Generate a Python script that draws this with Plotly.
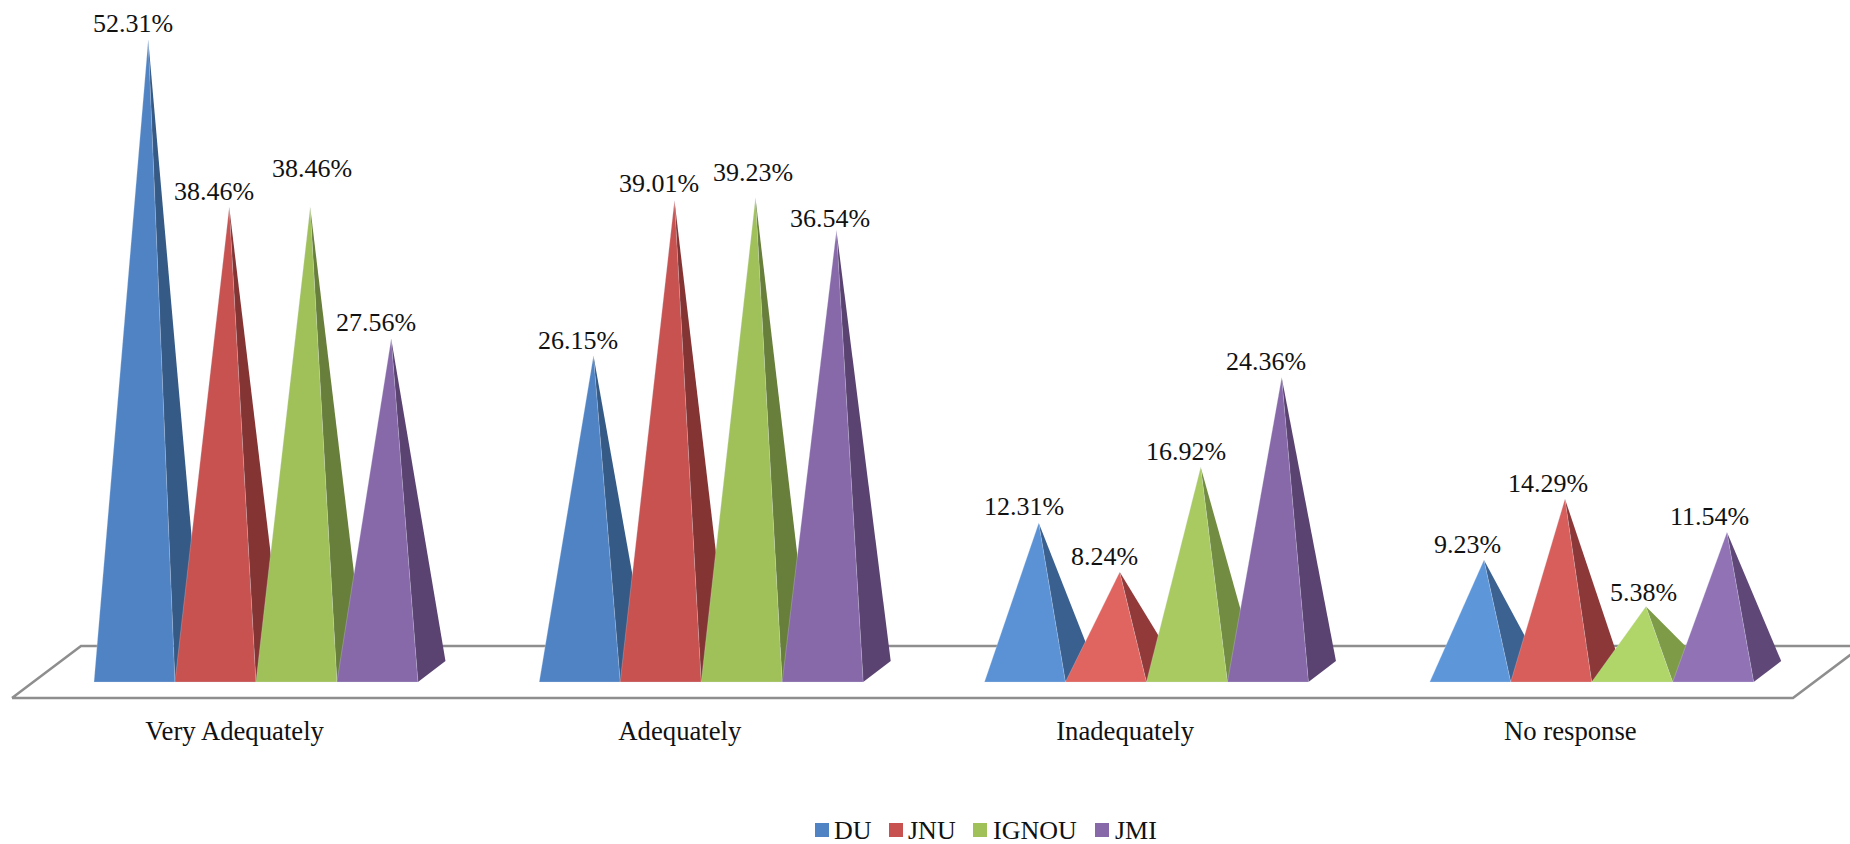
import plotly.graph_objects as go

categories = ["Very Adequately", "Adequately", "Inadequately", "No response"]
series_names = ["DU", "JNU", "IGNOU", "JMI"]
du_values = [52.31, 26.15, 12.31, 9.23]
jnu_values = [38.46, 39.01, 8.24, 14.29]
ignou_values = [38.46, 39.23, 16.92, 5.38]
jmi_values = [27.56, 36.54, 24.36, 11.54]
all_values = [du_values, jnu_values, ignou_values, jmi_values]

# Face colours: (front, lit front, side, lit side); short pyramids catch more light.
FACE_COLOURS = [
    ((80, 131, 196), (94, 150, 218), (53, 90, 134), (60, 98, 146)),
    ((199, 82, 80), (224, 100, 95), (132, 52, 51), (146, 58, 58)),
    ((160, 193, 90), (176, 213, 104), (103, 127, 58), (126, 155, 72)),
    ((135, 104, 169), (146, 116, 184), (90, 67, 112), (96, 72, 120)),
]

# Projection of the chart box, in axis units (one category = 1 on x, one percent = 1 on y).
BAR_W = 0.1819
FIRST_BAR = -0.3158
DEPTH_X = 0.0618
DEPTH_Y = 0.87
FLOOR_FRONT = -2.2
FLOOR_BACK = 2.11
FLOOR_SKEW = 0.155
X_RANGE = [-0.5269, 3.6281]
Y_RANGE = [-2.775, 55.63]

WIDTH, HEIGHT = 1850, 844
PLOT_BOTTOM = 705
FONT = "Liberation Serif, Times New Roman, serif"

# Label offsets from each apex in pixels, per series then category.
label_dx = [[-15, -15, -15, -16], [-15, -15, -15, -17], [2, -2, -15, -2], [-15, -6, -16, -17]]
label_dy = [[17, 15, 16, 16], [16, 17, 16, 16], [39, 25, 16, 14], [16, 12, 16, 16]]

# Legend row: key squares and their captions, in page pixels.
legend_key_left = [815, 889, 973, 1095]
legend_text_left = [832, 906, 991, 1113]
LEGEND_KEY_SIZE = 14
LEGEND_MID_Y = 830


def blend(low, high, t):
    return "rgb(%d,%d,%d)" % tuple(round(a + (b - a) * t) for a, b in zip(low, high))


def light_amount(value):
    return max(0.0, min(1.0, (24.0 - value) / 15.0))


def paper_y(py):
    return (PLOT_BOTTOM - py) / PLOT_BOTTOM


fig = go.Figure()

# Floor of the 3-D box.
fig.add_trace(go.Scatter(
    x=[-0.5, 3.5, 3.5 + FLOOR_SKEW, -0.5 + FLOOR_SKEW, -0.5],
    y=[FLOOR_FRONT, FLOOR_FRONT, FLOOR_BACK, FLOOR_BACK, FLOOR_FRONT],
    mode="lines", line=dict(color="#8e8e8e", width=2.5),
    showlegend=False, hoverinfo="skip",
))

annotations = []
for s, values in enumerate(all_values):
    front, front_lit, side, side_lit = FACE_COLOURS[s]
    for c, value in enumerate(values):
        left = c + FIRST_BAR + s * BAR_W
        right = left + BAR_W
        apex_x = left + (BAR_W + DEPTH_X) / 2
        t = light_amount(value)
        # Right-hand face first so the front face sits on top of it.
        fig.add_trace(go.Scatter(
            x=[right, right + DEPTH_X, apex_x, right],
            y=[-DEPTH_Y, DEPTH_Y, value, -DEPTH_Y],
            mode="lines", fill="toself", fillcolor=blend(side, side_lit, t),
            line=dict(width=0), name=f"{series_names[s]} side",
            showlegend=False, hoverinfo="skip",
        ))
        fig.add_trace(go.Scatter(
            x=[left, right, apex_x, left],
            y=[-DEPTH_Y, -DEPTH_Y, value, -DEPTH_Y],
            mode="lines", fill="toself", fillcolor=blend(front, front_lit, t),
            line=dict(width=1, color="rgba(225,232,245,0.25)"), name=series_names[s],
            showlegend=False, hoverinfo="skip",
        ))
        annotations.append(dict(
            x=apex_x, y=value, xref="x", yref="y", text=f"{value:.2f}%",
            showarrow=False, xanchor="center", yanchor="middle",
            xshift=label_dx[s][c], yshift=label_dy[s][c],
            font=dict(family=FONT, size=26, color="#111111"),
        ))

# Legend row, laid out by hand so keys sit tight against their captions.
shapes = []
for s, name in enumerate(series_names):
    key_x = legend_key_left[s]
    half = LEGEND_KEY_SIZE / 2
    shapes.append(dict(
        type="rect", xref="paper", yref="paper",
        x0=key_x / WIDTH, x1=(key_x + LEGEND_KEY_SIZE) / WIDTH,
        y0=paper_y(LEGEND_MID_Y + half), y1=paper_y(LEGEND_MID_Y - half),
        fillcolor=blend(*FACE_COLOURS[s][:2], 0), line=dict(width=0),
    ))
    annotations.append(dict(
        x=legend_text_left[s] / WIDTH, y=paper_y(LEGEND_MID_Y), xref="paper", yref="paper",
        text=name, showarrow=False, xanchor="left", yanchor="middle",
        font=dict(family=FONT, size=26, color="#111111"),
    ))

fig.update_layout(
    width=WIDTH, height=HEIGHT,
    margin=dict(l=0, r=0, t=0, b=HEIGHT - PLOT_BOTTOM, autoexpand=False),
    paper_bgcolor="white", plot_bgcolor="white",
    showlegend=False,
    annotations=annotations,
    shapes=shapes,
    xaxis=dict(
        range=X_RANGE, tickmode="array", tickvals=list(range(len(categories))),
        ticktext=categories, showgrid=False, zeroline=False, showline=False,
        ticks="outside", ticklen=2, tickcolor="rgba(0,0,0,0)",
        tickfont=dict(family=FONT, size=26.7, color="#111111"), fixedrange=True,
    ),
    yaxis=dict(range=Y_RANGE, visible=False, fixedrange=True),
)

fig.write_html("out.html")
